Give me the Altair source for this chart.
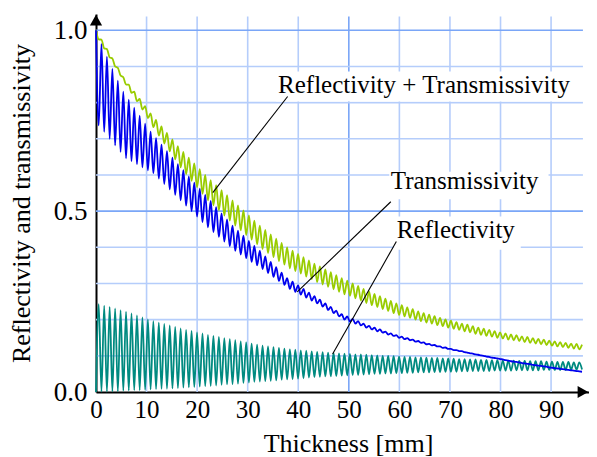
import altair as alt
import pandas as pd

PERIOD = 1.08  # mm, oscillation period

# Transmissivity (blue): peaks at k*P, troughs at (k+0.5)*P
t_peaks = [1.000, 0.962, 0.927, 0.893, 0.861, 0.830,
           0.808, 0.786, 0.764, 0.742, 0.720,
           0.702, 0.684, 0.666, 0.648, 0.630,
           0.613, 0.596, 0.579, 0.562, 0.545,
           0.528, 0.511, 0.494, 0.477, 0.460,
           0.446, 0.432, 0.418, 0.404, 0.390,
           0.375, 0.360, 0.345, 0.330, 0.315,
           0.305, 0.295, 0.285, 0.275, 0.265,
           0.255, 0.245, 0.235, 0.225, 0.215,
           0.209, 0.202, 0.196, 0.189, 0.183,
           0.178, 0.173, 0.167, 0.162, 0.157,
           0.153, 0.149, 0.145, 0.141, 0.137,
           0.133, 0.130, 0.126, 0.123, 0.119,
           0.116, 0.113, 0.109, 0.106, 0.103,
           0.100, 0.097, 0.094, 0.091, 0.088,
           0.085, 0.083, 0.080, 0.078, 0.075,
           0.073, 0.071, 0.068, 0.066, 0.064,
           0.062, 0.060, 0.058, 0.056]
t_troughs = [0.737, 0.719, 0.700, 0.682, 0.664, 0.646,
             0.638, 0.630, 0.621, 0.613, 0.605,
             0.590, 0.575, 0.560, 0.545, 0.530,
             0.515, 0.500, 0.485, 0.470, 0.455,
             0.442, 0.429, 0.416, 0.403, 0.390,
             0.380, 0.370, 0.360, 0.350, 0.340,
             0.329, 0.318, 0.307, 0.296, 0.285,
             0.277, 0.269, 0.261, 0.253, 0.245,
             0.236, 0.227, 0.218, 0.209, 0.200,
             0.195, 0.189, 0.184, 0.178, 0.173,
             0.168, 0.164, 0.159, 0.155, 0.150,
             0.146, 0.143, 0.139, 0.136, 0.132,
             0.129, 0.126, 0.122, 0.119, 0.116,
             0.113, 0.110, 0.107, 0.104, 0.101,
             0.098, 0.095, 0.093, 0.090, 0.087,
             0.084, 0.082, 0.079, 0.077, 0.074,
             0.072, 0.070, 0.067, 0.065, 0.063,
             0.061, 0.059, 0.057]

# Reflectivity (teal): troughs at k*P, peaks at (k+0.5)*P
r_troughs = [0.000, 0.001, 0.001, 0.002, 0.002, 0.003,
             0.004, 0.005, 0.005, 0.006, 0.007,
             0.008, 0.009, 0.009, 0.010, 0.011,
             0.012, 0.013, 0.014, 0.015, 0.016,
             0.017, 0.018, 0.020, 0.021, 0.022,
             0.023, 0.025, 0.026, 0.028, 0.029,
             0.030, 0.031, 0.032, 0.034, 0.035,
             0.036, 0.037, 0.038, 0.040, 0.041,
             0.042, 0.043, 0.043, 0.044, 0.045,
             0.046, 0.047, 0.047, 0.048, 0.049,
             0.050, 0.050, 0.051, 0.051, 0.052,
             0.052, 0.053, 0.053, 0.054, 0.054,
             0.054, 0.055, 0.055, 0.056, 0.056,
             0.056, 0.057, 0.057, 0.058, 0.058,
             0.058, 0.058, 0.059, 0.059, 0.059,
             0.059, 0.060, 0.060, 0.060, 0.060,
             0.060, 0.061, 0.061, 0.061, 0.061,
             0.061, 0.062, 0.062, 0.062]
r_peaks = [0.243, 0.239, 0.235, 0.231, 0.226, 0.222,
           0.217, 0.212, 0.206, 0.201, 0.196,
           0.192, 0.188, 0.184, 0.180, 0.176,
           0.172, 0.169, 0.165, 0.162, 0.158,
           0.155, 0.152, 0.149, 0.146, 0.143,
           0.140, 0.137, 0.134, 0.131, 0.128,
           0.126, 0.124, 0.122, 0.120, 0.118,
           0.117, 0.115, 0.114, 0.112, 0.111,
           0.110, 0.109, 0.108, 0.107, 0.106,
           0.105, 0.104, 0.104, 0.103, 0.102,
           0.101, 0.100, 0.100, 0.099, 0.098,
           0.097, 0.097, 0.096, 0.096, 0.095,
           0.094, 0.094, 0.093, 0.093, 0.092,
           0.091, 0.091, 0.090, 0.090, 0.089,
           0.089, 0.088, 0.088, 0.087, 0.087,
           0.087, 0.086, 0.086, 0.085, 0.085,
           0.085, 0.084, 0.084, 0.083, 0.083,
           0.083, 0.082, 0.082]

# Reflectivity + Transmissivity (green): peaks at k*P, troughs at (k+0.5)*P
s_peaks = [1.000, 0.974, 0.948, 0.922, 0.896, 0.870,
           0.850, 0.830, 0.810, 0.790, 0.770,
           0.752, 0.734, 0.716, 0.698, 0.680,
           0.664, 0.648, 0.632, 0.616, 0.600,
           0.586, 0.572, 0.558, 0.544, 0.530,
           0.516, 0.502, 0.488, 0.474, 0.460,
           0.448, 0.436, 0.424, 0.412, 0.400,
           0.391, 0.382, 0.373, 0.364, 0.355,
           0.347, 0.339, 0.331, 0.323, 0.315,
           0.308, 0.300, 0.293, 0.285, 0.278,
           0.271, 0.265, 0.258, 0.252, 0.245,
           0.240, 0.234, 0.229, 0.223, 0.218,
           0.214, 0.210, 0.205, 0.201, 0.197,
           0.193, 0.189, 0.186, 0.182, 0.178,
           0.175, 0.172, 0.168, 0.165, 0.162,
           0.159, 0.157, 0.154, 0.152, 0.149,
           0.147, 0.145, 0.142, 0.140, 0.138,
           0.136, 0.134, 0.133, 0.131]
s_troughs = [0.975, 0.950, 0.925, 0.900, 0.875, 0.850,
             0.827, 0.804, 0.781, 0.757, 0.732,
             0.709, 0.687, 0.665, 0.643, 0.621,
             0.602, 0.584, 0.566, 0.548, 0.530,
             0.516, 0.502, 0.488, 0.474, 0.460,
             0.447, 0.434, 0.421, 0.408, 0.395,
             0.384, 0.373, 0.362, 0.352, 0.342,
             0.334, 0.327, 0.319, 0.312, 0.304,
             0.297, 0.291, 0.284, 0.277, 0.270,
             0.266, 0.259, 0.253, 0.246, 0.240,
             0.235, 0.229, 0.224, 0.218, 0.213,
             0.209, 0.205, 0.200, 0.196, 0.192,
             0.189, 0.185, 0.182, 0.178, 0.175,
             0.172, 0.168, 0.165, 0.161, 0.158,
             0.155, 0.153, 0.150, 0.148, 0.145,
             0.143, 0.141, 0.138, 0.136, 0.134,
             0.132, 0.130, 0.128, 0.126, 0.124,
             0.122, 0.120, 0.118]

x_ticks = [0, 10, 20, 30, 40, 50, 60, 70, 80, 90]
y_ticks = [0.0, 0.5, 1.0]
x_minor_grid = [10, 20, 30, 40, 60, 70, 80, 90]
x_major_grid = [50]
y_minor_grid = [0.1, 0.2, 0.3, 0.4, 0.6, 0.7, 0.8, 0.9]
y_major_grid = [0.5, 1.0]

labels = ["Reflectivity + Transmissivity", "Transmissivity", "Reflectivity"]
label_x = [36.0, 58.3, 59.5]
label_y = [0.827, 0.562, 0.427]
leader_x1 = [37.9, 58.3, 59.4]
leader_y1 = [0.817, 0.526, 0.416]
leader_x2 = [23.1, 39.8, 46.8]
leader_y2 = [0.551, 0.277, 0.105]
box_x1 = [35.6, 58.0, 58.9]
box_x2 = [96.3, 89.5, 84.0]
box_y1 = [0.803, 0.533, 0.393]
box_y2 = [0.886, 0.609, 0.485]

X_MAX = 97.5
Y_MAX = 1.045
GRID_X_END = 96.3
GRID_Y_END = 1.038

rows = []
def build(series, at_k, at_half):
    for k, v in enumerate(at_k):
        rows.append({"series": series, "x": k * PERIOD, "y": v})
    for k, v in enumerate(at_half):
        rows.append({"series": series, "x": (k + 0.5) * PERIOD, "y": v})

build("sum", s_peaks, s_troughs)
build("refl", r_troughs, r_peaks)
build("trans", t_peaks, t_troughs)
curves = pd.DataFrame(rows)

FONT = "Liberation Serif, Times New Roman, serif"

xs = alt.Scale(domain=[0, X_MAX], nice=False, zero=False)
ys = alt.Scale(domain=[0, Y_MAX], nice=False, zero=False)
x_axis = alt.Axis(values=x_ticks, format="d", ticks=False, grid=False, domain=True,
                  domainColor="black", domainWidth=2, labelFont=FONT, labelFontSize=25,
                  labelColor="black", labelPadding=5, labelFlush=False,
                  titleFont=FONT, titleFontSize=26, titleFontWeight="normal",
                  titleColor="black", titleBaseline="alphabetic", titleY=59,
                  titleX=252, titleAlign="center", titleAnchor="start")
y_axis = alt.Axis(values=y_ticks, format=".1f", ticks=False, grid=False, domain=True,
                  domainColor="black", domainWidth=2, labelFont=FONT, labelFontSize=27,
                  labelColor="black", labelPadding=9, labelFlush=False,
                  titleFont=FONT, titleFontSize=26, titleFontWeight="normal",
                  titleColor="black", titlePadding=19)
X_TITLE = "Thickness [mm]"
Y_TITLE = "Reflectivity and transmissivity"

def X(f):
    return alt.X(f, scale=xs, axis=x_axis, title=X_TITLE)

def Y(f):
    return alt.Y(f, scale=ys, axis=y_axis, title=Y_TITLE)

vgrid_minor = alt.Chart(pd.DataFrame({"x": x_minor_grid, "y": 0.0, "y2": GRID_Y_END})).mark_rule(
    color="#b5cdfb", strokeWidth=1.6).encode(x=X("x:Q"), y=Y("y:Q"), y2="y2:Q")
vgrid_major = alt.Chart(pd.DataFrame({"x": x_major_grid, "y": 0.0, "y2": GRID_Y_END})).mark_rule(
    color="#7aa6f7", strokeWidth=1.6).encode(x=X("x:Q"), y=Y("y:Q"), y2="y2:Q")
hgrid_minor = alt.Chart(pd.DataFrame({"y": y_minor_grid, "x": 0.0, "x2": GRID_X_END})).mark_rule(
    color="#b5cdfb", strokeWidth=1.6).encode(y=Y("y:Q"), x=X("x:Q"), x2="x2:Q")
hgrid_major = alt.Chart(pd.DataFrame({"y": y_major_grid, "x": 0.0, "x2": GRID_X_END})).mark_rule(
    color="#7aa6f7", strokeWidth=1.6).encode(y=Y("y:Q"), x=X("x:Q"), x2="x2:Q")

def curve(name, color):
    return alt.Chart(curves[curves.series == name]).mark_line(
        color=color, strokeWidth=1.8, interpolate="monotone").encode(
        x=X("x:Q"), y=Y("y:Q"), order="x:Q")

sum_line = curve("sum", "#99cc00")
refl_line = curve("refl", "#008a80")
trans_line = curve("trans", "#0000ee")

ann = pd.DataFrame({"label": labels, "lx": label_x, "ly": label_y,
                    "x1": leader_x1, "y1": leader_y1, "x2": leader_x2, "y2": leader_y2,
                    "bx1": box_x1, "bx2": box_x2, "by1": box_y1, "by2": box_y2})

boxes = alt.Chart(ann).mark_rect(color="white").encode(
    x=X("bx1:Q"), x2="bx2:Q", y=Y("by1:Q"), y2="by2:Q")
leaders = alt.Chart(ann).mark_rule(color="black", strokeWidth=1.1).encode(
    x=X("x1:Q"), x2="x2:Q", y=Y("y1:Q"), y2="y2:Q")
texts = alt.Chart(ann).mark_text(font=FONT, fontSize=25, align="left", baseline="alphabetic",
                                 color="black").encode(
    x=X("lx:Q"), y=Y("ly:Q"), text="label:N")

arrow_df = pd.DataFrame({"x": [0.0, X_MAX - 1.2], "y": [Y_MAX - 0.017, 0.0],
                         "shape": ["triangle-up", "triangle-right"]})
arrows = alt.Chart(arrow_df).mark_point(filled=True, color="black", size=150, opacity=1).encode(
    x=X("x:Q"), y=Y("y:Q"),
    shape=alt.Shape("shape:N", scale=None, legend=None))

chart = alt.layer(vgrid_minor, vgrid_major, hgrid_minor, hgrid_major,
                  sum_line, refl_line, trans_line,
                  boxes, leaders, texts, arrows).properties(
    width=493, height=378,
    autosize=alt.AutoSizeParams(type="none"),
    padding={"left": 88, "top": 6, "right": 0, "bottom": 65},
).configure_view(stroke=None)

chart.save("out.html", embed_options={"renderer": "svg", "actions": False})
